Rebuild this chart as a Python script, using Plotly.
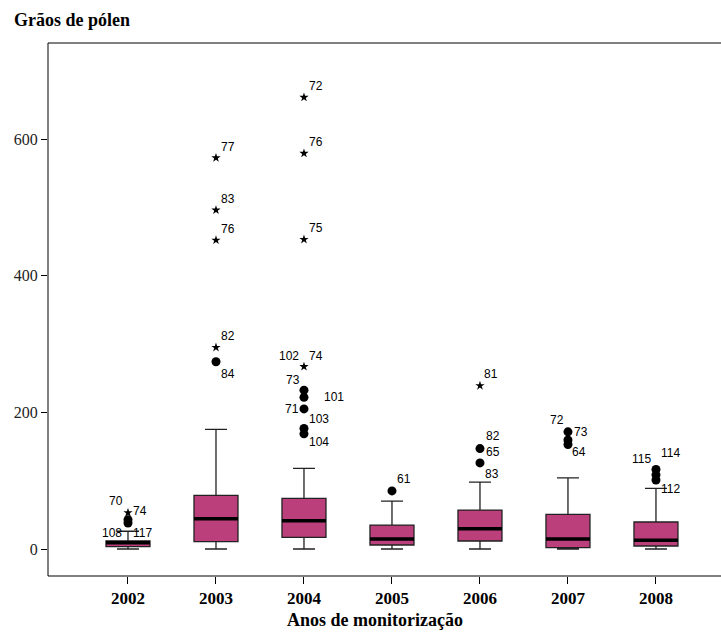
import plotly.graph_objects as go

# ---------------- data ----------------
years = ["2002", "2003", "2004", "2005", "2006", "2007", "2008"]
q1 = [3.4, 10.7, 17, 5.9, 11.7, 2, 4.4]
median = [9.2, 44.4, 41.5, 14.6, 29.7, 14.6, 12.7]
q3 = [12, 78.6, 74, 35, 57, 50.8, 39.5]
lowerfence = [0, 0, 0, 0, 0, 0, 0]
upperfence = [26, 175, 118, 70, 98, 104, 88.8]

# mild outliers (circles)
circle_year = ["2002", "2002", "2003", "2004", "2004", "2004", "2004", "2004",
               "2005", "2006", "2006", "2007", "2007", "2007", "2008", "2008", "2008"]
circle_val = [43, 38, 274, 232.5, 222, 205, 176.5, 168.5,
              85, 147, 126, 171.5, 159.5, 153, 116.5, 108.5, 101]

# extreme outliers (stars)
star_year = ["2002", "2003", "2003", "2003", "2003", "2004", "2004", "2004", "2004", "2006"]
star_val = [53, 572.5, 496, 452, 295, 661, 579, 453, 267, 239]

# case labels: year, anchor value, text
label_year = ["2002", "2002", "2002", "2002",
              "2003", "2003", "2003", "2003", "2003",
              "2004", "2004", "2004", "2004", "2004", "2004", "2004", "2004", "2004", "2004",
              "2005",
              "2006", "2006", "2006", "2006",
              "2007", "2007", "2007",
              "2008", "2008", "2008"]
label_val = [53, 53, 26, 26,
             572.5, 496, 452, 295, 274,
             661, 579, 453, 267, 267, 232.5, 222, 205, 176.5, 168.5,
             85,
             239, 147, 147, 126,
             171.5, 171.5, 153,
             116.5, 116.5, 101]
label_text = ["70", "74", "108", "117",
              "77", "83", "76", "82", "84",
              "72", "76", "75", "102", "74", "73", "101", "71", "103", "104",
              "61",
              "81", "82", "65", "83",
              "72", "73", "64",
              "115", "114", "112"]

# label pixel offsets (style)
label_dx = [-12, 12, -16, 15,
            12, 12, 12, 12, 12,
            12, 12, 12, -15, 12, -11, 30, -12, 15, 15,
            12,
            11, 13, 13, 12,
            -11, 13, 11,
            -14, 15, 15]
label_dy = [12, 2, -2, -2,
            11, 11, 11, 11, -12,
            11, 11, 11, 11, 11, 10, 0, 0, 9, -8,
            12,
            12, 13, -3, -11,
            12, 0, -8,
            10, 16, -9]

# ---------------- figure ----------------
idx = {y: i for i, y in enumerate(years)}
xs = list(range(len(years)))

BOX_FILL = "#BA3F7B"
SERIF = "Liberation Serif"
SANS = "Liberation Sans"

fig = go.Figure()
fig.add_trace(go.Box(
    x=xs, q1=q1, median=median, q3=q3,
    lowerfence=lowerfence, upperfence=upperfence,
    fillcolor=BOX_FILL, line=dict(color="#222222", width=1.3),
    width=0.5, whiskerwidth=0.5, boxpoints=False, showlegend=False,
    hoverinfo="skip",
))

# thick median lines
for i, m in enumerate(median):
    fig.add_trace(go.Scatter(
        x=[i - 0.25, i + 0.25], y=[m, m], mode="lines",
        line=dict(color="black", width=3.5), showlegend=False, hoverinfo="skip",
    ))

fig.add_trace(go.Scatter(
    x=[idx[y] for y in circle_year], y=circle_val, mode="markers",
    marker=dict(symbol="circle", size=9, color="black"),
    showlegend=False, hoverinfo="skip",
))
fig.add_trace(go.Scatter(
    x=[idx[y] for y in star_year], y=star_val, mode="markers",
    marker=dict(symbol="star", size=7, color="black"),
    showlegend=False, hoverinfo="skip",
))

annotations = []
for y, v, t, dx, dy in zip(label_year, label_val, label_text, label_dx, label_dy):
    annotations.append(dict(
        x=idx[y], y=v, text=t, showarrow=False, xanchor="center", yanchor="middle",
        xshift=dx, yshift=dy, font=dict(family=SANS, size=12, color="black"),
    ))

annotations.append(dict(
    xref="paper", yref="paper", x=-0.0535, y=1.043, xanchor="left", yanchor="middle",
    text="<b>Grãos de pólen</b>", showarrow=False,
    font=dict(family=SERIF, size=18, color="black"),
))
annotations.append(dict(
    xref="paper", yref="paper", x=0.486, y=-0.083, xanchor="center", yanchor="middle",
    text="<b>Anos de monitorização</b>", showarrow=False,
    font=dict(family=SERIF, size=18, color="black"),
))

# frame: left, top, bottom (right edge lies outside the picture)
frame = dict(type="line", xref="paper", yref="paper", line=dict(color="black", width=1), layer="above")
shapes = [
    dict(frame, x0=0, x1=0, y0=0, y1=1),
    dict(frame, x0=0, x1=1.01, y0=1, y1=1),
    dict(frame, x0=0, x1=1.01, y0=0, y1=0),
]

fig.update_layout(
    width=721, height=633,
    margin=dict(l=48, r=0, t=43, b=57),
    paper_bgcolor="white", plot_bgcolor="white",
    annotations=annotations, shapes=shapes,
    xaxis=dict(
        range=[-0.909, 6.739], tickmode="array", tickvals=xs,
        ticktext=["<b>%s</b>" % y for y in years],
        showgrid=False, zeroline=False, showline=False,
        ticks="outside", ticklen=7, tickcolor="black",
        tickfont=dict(family=SERIF, size=17, color="black"), automargin=False,
    ),
    yaxis=dict(
        range=[-39.5, 740.5], tickvals=[0, 200, 400, 600],
        showgrid=False, zeroline=False, showline=False,
        ticks="outside", ticklen=6, tickcolor="black",
        tickfont=dict(family=SERIF, size=16, color="#222"), automargin=False,
    ),
)

fig.write_html("out.html")
